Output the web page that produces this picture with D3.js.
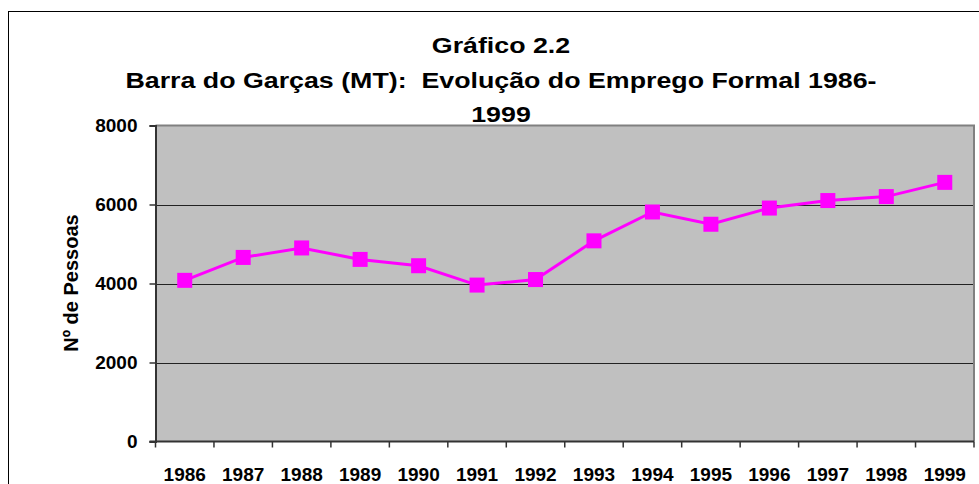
<!DOCTYPE html>
<html>
<head>
<meta charset="utf-8">
<script src="https://cdn.jsdelivr.net/npm/d3@7"></script>
<style>
  html, body { margin: 0; padding: 0; background: #fff; }
  svg { display: block; font-family: "Liberation Sans", Arial, sans-serif; font-weight: bold; }
  .title { white-space: pre; }
</style>
</head>
<body>
<svg id="chart" width="979" height="484"></svg>
<script>
// data
const years = ['1986', '1987', '1988', '1989', '1990', '1991', '1992', '1993', '1994', '1995', '1996', '1997', '1998', '1999']
const pessoas = [4080, 4660, 4900, 4610, 4450, 3960, 4100, 5080, 5810, 5500, 5910, 6100, 6200, 6560]
const yTicks = [0, 2000, 4000, 6000, 8000]
const titleLines = ['Gráfico 2.2', 'Barra do Garças (MT):  Evolução do Emprego Formal 1986-', '1999']
const yTitle = 'Nº de Pessoas'

const svg = d3.select('#chart')
const plotLeft = 155.5, plotRight = 974, plotTop = 125.5, plotBottom = 441.5

// outer chart frame
svg.append('rect')
    .attr('x', 8.5).attr('y', 11.5)
    .attr('width', 1000).attr('height', 500)
    .attr('fill', 'none').attr('stroke', '#000').attr('stroke-width', 1)

const x = d3.scaleBand().domain(years).range([plotLeft, plotRight]).padding(0)
const y = d3.scaleLinear().domain([0, 8000]).range([plotBottom, plotTop])

// plot area
svg.append('rect')
    .attr('x', plotLeft).attr('y', plotTop)
    .attr('width', plotRight - plotLeft).attr('height', plotBottom - plotTop)
    .attr('fill', '#c0c0c0')

// gridlines
svg.append('g').selectAll('line')
    .data(yTicks.filter(t => t > 0 && t < 8000))
    .enter().append('line')
    .attr('x1', plotLeft).attr('x2', plotRight)
    .attr('y1', d => Math.round(y(d)) + 0.5).attr('y2', d => Math.round(y(d)) + 0.5)
    .attr('stroke', '#222').attr('stroke-width', 1.2)

// gray border top / right
svg.append('path')
    .attr('d', `M${plotLeft},${plotTop} H${plotRight} V${plotBottom}`)
    .attr('fill', 'none').attr('stroke', '#808080').attr('stroke-width', 2)

// y axis
const yAxis = svg.append('g')
    .attr('transform', `translate(${plotLeft},0)`)
    .call(d3.axisLeft(y).tickValues(yTicks).tickSize(6).tickPadding(12).tickFormat(d3.format('d')))
yAxis.select('.domain').attr('stroke', '#333').attr('stroke-width', 2)
yAxis.selectAll('.tick line').attr('stroke', '#333').attr('stroke-width', 1.5)
yAxis.selectAll('.tick text')
    .attr('font-size', 19).attr('font-weight', 'bold').attr('fill', '#000')
    .attr('font-family', '"Liberation Sans", Arial, sans-serif')

// x axis labels
const xAxis = svg.append('g')
    .attr('transform', `translate(0,${plotBottom})`)
    .call(d3.axisBottom(x).tickSize(0).tickPadding(26))
xAxis.select('.domain').remove()
xAxis.selectAll('.tick text')
    .attr('font-size', 19).attr('font-weight', 'bold').attr('fill', '#000')
    .attr('font-family', '"Liberation Sans", Arial, sans-serif')

// x axis line and boundary ticks
svg.append('line')
    .attr('x1', plotLeft - 6).attr('x2', plotRight)
    .attr('y1', plotBottom).attr('y2', plotBottom)
    .attr('stroke', '#333').attr('stroke-width', 2)
const bounds = years.map(d => x(d)).concat([x(years[years.length - 1]) + x.bandwidth()])
svg.append('g').selectAll('line')
    .data(bounds)
    .enter().append('line')
    .attr('x1', d => d).attr('x2', d => d)
    .attr('y1', plotBottom).attr('y2', plotBottom + 6)
    .attr('stroke', '#333').attr('stroke-width', 1.5)

// series line
const cx = d => x(d) + x.bandwidth() / 2
const line = d3.line().x((d, i) => cx(years[i])).y(d => y(d))
svg.append('path')
    .datum(pessoas)
    .attr('d', line)
    .attr('fill', 'none').attr('stroke', '#ff00ff').attr('stroke-width', 3)

// markers
const ms = 15
svg.append('g').selectAll('rect.mark')
    .data(pessoas)
    .enter().append('rect')
    .attr('class', 'mark')
    .attr('x', (d, i) => cx(years[i]) - ms / 2)
    .attr('y', d => y(d) - ms / 2)
    .attr('width', ms).attr('height', ms)
    .attr('fill', '#ff00ff')

// title (text looks horizontally stretched in the reference)
const titleY = [52.5, 87.5, 121.5]
titleLines.forEach((t, i) => {
    svg.append('text')
        .attr('class', 'title')
        .attr('transform', `translate(501,${titleY[i]}) scale(1.19,1)`)
        .attr('text-anchor', 'middle')
        .attr('font-size', 22.5)
        .attr('fill', '#000')
        .text(t)
})

// y axis title
svg.append('text')
    .attr('transform', 'translate(78,283) rotate(-90)')
    .attr('text-anchor', 'middle')
    .attr('font-size', 20)
    .attr('fill', '#000')
    .text(yTitle)
</script>
</body>
</html>
